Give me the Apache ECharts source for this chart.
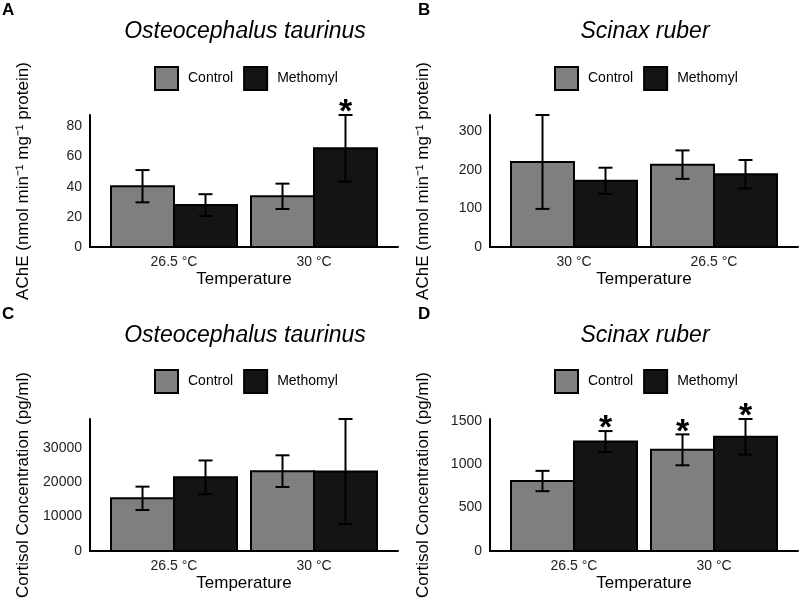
<!DOCTYPE html>
<html>
<head>
<meta charset="utf-8">
<script src="https://cdn.jsdelivr.net/npm/echarts@6/dist/echarts.min.js"></script>
<style>
  html, body { margin: 0; padding: 0; background: #fff; }
  #main { width: 800px; height: 600px; }
</style>
</head>
<body>
<div id="main"></div>
<script>
const font = 'Liberation Sans, Arial, sans-serif'

// A - AChE, Osteocephalus taurinus
const tempsA = ['26.5 °C', '30 °C']
const controlA = [40.3, 33.6]
const controlErrA = [10.7, 8.4]
const methomylA = [27.8, 65.4]
const methomylErrA = [7.2, 22.1]
const controlStarA = [0, 0]
const methomylStarA = [0, 1]
const yTicksA = [0, 20, 40, 60, 80]

// B - AChE, Scinax ruber
const tempsB = ['30 °C', '26.5 °C']
const controlB = [221, 214]
const controlErrB = [122, 37]
const methomylB = [172, 189]
const methomylErrB = [34, 37]
const controlStarB = [0, 0]
const methomylStarB = [0, 0]
const yTicksB = [0, 100, 200, 300]

// C - cortisol, Osteocephalus taurinus
const tempsC = ['26.5 °C', '30 °C']
const controlC = [15300, 23200]
const controlErrC = [3400, 4600]
const methomylC = [21400, 23100]
const methomylErrC = [4900, 15250]
const controlStarC = [0, 0]
const methomylStarC = [0, 0]
const yTicksC = [0, 10000, 20000, 30000]

// D - cortisol, Scinax ruber
const tempsD = ['26.5 °C', '30 °C']
const controlD = [806, 1165]
const controlErrD = [117, 178]
const methomylD = [1260, 1315]
const methomylErrD = [121, 205]
const controlStarD = [0, 1]
const methomylStarD = [1, 1]
const yTicksD = [0, 500, 1000, 1500]

const ache = 'AChE (nmol min⁻¹ mg⁻¹ protein)'
const cort = 'Cortisol Concentration (pg/ml)'

const panels = [
  { tag: 'A', title: 'Osteocephalus taurinus', yName: ache, temps: tempsA, c: controlA, ce: controlErrA, m: methomylA, me: methomylErrA, cs: controlStarA, ms: methomylStarA, ticks: yTicksA, x: 0, y: 0 },
  { tag: 'B', title: 'Scinax ruber', yName: ache, temps: tempsB, c: controlB, ce: controlErrB, m: methomylB, me: methomylErrB, cs: controlStarB, ms: methomylStarB, ticks: yTicksB, x: 400, y: 0 },
  { tag: 'C', title: 'Osteocephalus taurinus', yName: cort, temps: tempsC, c: controlC, ce: controlErrC, m: methomylC, me: methomylErrC, cs: controlStarC, ms: methomylStarC, ticks: yTicksC, x: 0, y: 304 },
  { tag: 'D', title: 'Scinax ruber', yName: cort, temps: tempsD, c: controlD, ce: controlErrD, m: methomylD, me: methomylErrD, cs: controlStarD, ms: methomylStarD, ticks: yTicksD, x: 400, y: 304 }
]

const BAR = 0.45   // bar width in category units (dodge 0.9)
const CAP = 0.05   // half width of error-bar caps

function renderBar(params, api) {
  const x = api.value(0)
  const mean = api.value(1)
  const err = api.value(2)
  const star = api.value(3)
  const fill = api.visual('color')
  const tl = api.coord([x - BAR / 2, mean])
  const br = api.coord([x + BAR / 2, 0])
  const top = api.coord([x, mean + err])
  const bot = api.coord([x, mean - err])
  const cap = api.size([CAP, 0])[0]
  const line = { stroke: '#000', lineWidth: 2 }
  const children = [
    { type: 'rect', shape: { x: tl[0], y: tl[1], width: br[0] - tl[0], height: br[1] - tl[1] },
      style: { fill: fill, stroke: '#000', lineWidth: 2 } },
    { type: 'line', shape: { x1: top[0], y1: top[1], x2: bot[0], y2: bot[1] }, style: line },
    { type: 'line', shape: { x1: top[0] - cap, y1: top[1], x2: top[0] + cap, y2: top[1] }, style: line },
    { type: 'line', shape: { x1: bot[0] - cap, y1: bot[1], x2: bot[0] + cap, y2: bot[1] }, style: line }
  ]
  if (star) {
    children.push({ type: 'text', x: top[0], y: top[1] - 2,
      style: { text: '*', fill: '#000', font: 'bold 34px ' + font, align: 'center', verticalAlign: 'middle' } })
  }
  return { type: 'group', children: children }
}

function makeSeries(name, idx, means, errs, stars, offset, color) {
  return {
    name: name,
    type: 'custom',
    xAxisIndex: idx,
    yAxisIndex: idx,
    itemStyle: { color: color, borderColor: '#000', borderWidth: 2 },
    dimensions: ['x', 'mean', 'err', 'star'],
    encode: { x: 0, y: 1 },
    data: means.map((v, i) => [i + 1 + offset, v, errs[i], stars[i]]),
    renderItem: renderBar
  }
}

const grid = [], xAxis = [], yAxis = [], series = [], title = [], legend = []

panels.forEach((p, i) => {
  const top = Math.max(...p.c.map((v, k) => v + p.ce[k]), ...p.m.map((v, k) => v + p.me[k]))
  grid.push({ left: p.x + 90, top: p.y + 115, width: 308, height: 132 })
  xAxis.push({
    type: 'value', gridIndex: i, min: 0.4, max: 2.6,
    name: 'Temperature', nameLocation: 'middle', nameGap: 24,
    nameTextStyle: { fontSize: 17, color: '#000', fontFamily: font },
    axisLine: { lineStyle: { color: '#000', width: 2 } },
    axisTick: { show: false }, splitLine: { show: false },
    axisLabel: { customValues: [1, 2], formatter: v => p.temps[Math.round(v) - 1],
      fontSize: 14, color: '#222', fontFamily: font, margin: 8 }
  })
  yAxis.push({
    type: 'value', gridIndex: i, min: 0, max: top,
    name: p.yName, nameLocation: 'middle', nameRotate: 90, nameGap: 58,
    nameTextStyle: { fontSize: 17, color: '#000', fontFamily: font },
    axisLine: { show: true, lineStyle: { color: '#000', width: 2 } },
    axisTick: { show: false }, splitLine: { show: false },
    axisLabel: { customValues: p.ticks, formatter: v => String(v),
      fontSize: 14, color: '#222', fontFamily: font, margin: 8 }
  })
  series.push(makeSeries('Control', i, p.c, p.ce, p.cs, -BAR / 2, '#7f7f7f'))
  series.push(makeSeries('Methomyl', i, p.m, p.me, p.ms, BAR / 2, '#141414'))
  title.push({
    text: p.title, left: p.x + 240, top: p.y + 15, textAlign: 'center',
    textStyle: { fontSize: 23, fontStyle: 'italic', fontWeight: 'normal', color: '#000', fontFamily: font }
  })
  title.push({
    text: p.tag, left: p.x + (p.x ? 13 : -3), top: p.y - 3,
    textStyle: { fontSize: 17, fontWeight: 'bold', color: '#000', fontFamily: font }
  })
  legend.push({
    data: ['Control', 'Methomyl'], left: p.x + 149, top: p.y + (p.y ? 60 : 61),
    icon: 'rect', itemWidth: 23, itemHeight: 23, itemGap: 10, selectedMode: false,
    itemStyle: { borderColor: '#000', borderWidth: 2 },
    textStyle: { fontSize: 14, color: '#000', fontFamily: font, padding: [0, 0, 0, 5] }
  })
})

const chart = echarts.init(document.getElementById('main'))
chart.setOption({
  animation: false,
  backgroundColor: '#fff',
  title: title,
  legend: legend,
  grid: grid,
  xAxis: xAxis,
  yAxis: yAxis,
  series: series
})
</script>
</body>
</html>
